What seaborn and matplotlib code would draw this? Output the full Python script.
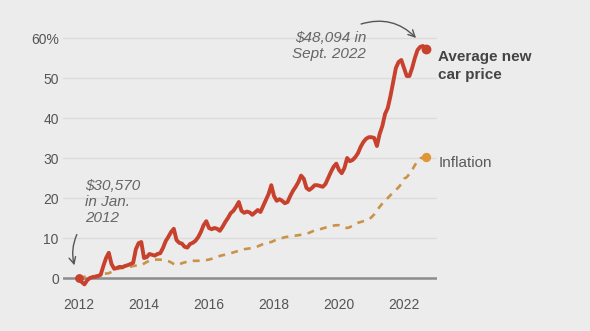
import numpy as np
import pandas as pd
import seaborn as sns
import matplotlib.pyplot as plt

# % change since Jan. 2012, monthly Jan 2012 .. Sep 2022
car_price = [
    0.0, -1.0, -1.6, -0.6, 0.0, 0.2, 0.3, 0.5, 0.8, 3.0, 5.0, 6.3,          # 2012
    3.5, 2.3, 2.5, 2.8, 2.7, 3.0, 3.2, 3.5, 3.8, 7.2, 8.7, 9.0,             # 2013
    5.0, 5.2, 6.0, 5.8, 5.6, 6.0, 6.2, 7.5, 9.2, 10.3, 11.5, 12.3,          # 2014
    9.5, 8.8, 8.6, 7.8, 7.6, 8.5, 8.8, 9.3, 10.2, 11.5, 13.2, 14.2,         # 2015
    12.5, 12.2, 12.5, 12.3, 11.8, 12.8, 14.0, 15.0, 16.2, 16.8, 17.8, 19.0, # 2016
    16.8, 16.3, 16.6, 16.4, 15.8, 16.4, 17.0, 16.5, 18.0, 19.5, 21.0, 23.2, # 2017
    20.5, 19.3, 19.7, 19.3, 18.7, 19.0, 20.5, 21.8, 22.8, 24.0, 25.6, 24.8, # 2018
    22.5, 22.0, 22.5, 23.2, 23.2, 23.0, 22.8, 23.5, 25.0, 26.5, 27.8, 28.6, # 2019
    27.0, 26.2, 27.5, 30.0, 29.2, 29.5, 30.2, 31.2, 32.8, 34.0, 34.8, 35.2, # 2020
    35.2, 35.0, 33.0, 36.0, 38.0, 41.0, 42.5, 45.5, 49.0, 52.5, 54.0, 54.5, # 2021
    52.5, 50.5, 50.5, 52.5, 55.0, 57.0, 57.8, 58.0, 57.3,                   # 2022
]
inflation = [
    0.0, 0.1, 0.3, 0.4, 0.4, 0.4, 0.5, 0.6, 0.8, 1.0, 1.1, 1.2,
    1.5, 1.9, 2.2, 2.4, 2.5, 2.6, 2.7, 2.8, 3.0, 3.1, 3.2, 3.2,
    3.6, 4.0, 4.3, 4.5, 4.6, 4.6, 4.6, 4.5, 4.4, 4.2, 3.9, 3.5,
    3.2, 3.4, 3.7, 3.9, 4.1, 4.3, 4.3, 4.3, 4.3, 4.4, 4.5, 4.5,
    4.6, 4.8, 5.0, 5.3, 5.5, 5.7, 5.8, 6.0, 6.2, 6.4, 6.6, 6.8,
    7.0, 7.2, 7.3, 7.4, 7.5, 7.7, 7.9, 8.2, 8.5, 8.7, 8.9, 9.0,
    9.3, 9.6, 9.8, 10.0, 10.2, 10.3, 10.4, 10.5, 10.6, 10.7, 10.8, 10.9,
    11.1, 11.3, 11.6, 11.9, 12.0, 12.2, 12.4, 12.6, 12.8, 13.0, 13.1, 13.2,
    13.2, 13.0, 12.7, 12.5, 12.7, 13.1, 13.5, 13.8, 14.0, 14.2, 14.4, 14.6,
    15.2, 15.9, 16.8, 17.8, 18.6, 19.3, 20.0, 20.7, 21.4, 22.0, 22.7, 23.5,
    24.8, 25.2, 26.0, 27.0, 28.2, 29.2, 29.9, 30.1, 30.3,
]
start_year = 2012
y_ticks = [0, 10, 20, 30, 40, 50, 60]
y_tick_labels = ["0", "10", "20", "30", "40", "50", "60%"]
x_ticks = [2012, 2014, 2016, 2018, 2020, 2022]
x_tick_labels = ["2012", "2014", "2016", "2018", "2020", "2022"]

months = np.arange(len(car_price))
years = start_year + months / 12.0
df = pd.DataFrame({"year": years, "car": car_price, "infl": inflation})

sns.set_theme(style="white")
plt.rcParams["font.family"] = ["Liberation Sans", "DejaVu Sans"]

BG = "#ececec"
RED = "#c8412d"
ORANGE = "#c99248"
DOT_ORANGE = "#df9634"
GRAY = "#555555"

fig = plt.figure(figsize=(5.9, 3.31), dpi=100)
fig.patch.set_facecolor(BG)
ax = fig.add_axes([63 / 590, 1 - 290 / 331, 374 / 590, 260 / 331])
ax.set_facecolor(BG)

ax.set_xlim(2011.508, 2023.015)
ax.set_ylim(-3, 62)

for t in y_ticks[1:]:
    ax.axhline(t, color="#dcdcdc", lw=1.0, zorder=0)
ax.axhline(0, color="#8c8c8c", lw=1.8, zorder=1)

sns.lineplot(data=df, x="year", y="infl", ax=ax, color=ORANGE, lw=1.9,
             linestyle=(0, (2.6, 2.4)), zorder=2)
sns.lineplot(data=df, x="year", y="car", ax=ax, color=RED, lw=2.8, zorder=3)

ax.scatter([years[-1]], [inflation[-1]], s=45, color=DOT_ORANGE, zorder=4, linewidths=0)
ax.scatter([years[-1]], [car_price[-1]], s=50, color=RED, zorder=4, linewidths=0)
ax.scatter([years[0]], [car_price[0]], s=40, color=RED, zorder=4, linewidths=0)

ax.set_xticks(x_ticks)
ax.set_xticklabels(x_tick_labels)
ax.set_yticks(y_ticks)
ax.set_yticklabels(y_tick_labels)
ax.tick_params(axis="both", length=0, labelsize=10, labelcolor=GRAY)
ax.tick_params(axis="y", pad=3)
ax.tick_params(axis="x", pad=6)
ax.set_xlabel("")
ax.set_ylabel("")
for s in ax.spines.values():
    s.set_visible(False)

# labels
ax.text(2023.05, 53, "Average new\ncar price", ha="left", va="center",
        fontsize=11, fontweight="bold", color="#444444", linespacing=1.45)
ax.text(2023.05, 28.75, "Inflation", ha="left", va="center",
        fontsize=11, color="#5a5a5a")

ax.text(2020.83, 58, "$48,094 in\nSept. 2022", ha="right", va="center",
        fontsize=11, style="italic", color="#666666", linespacing=1.2)
ax.text(2012.18, 19, "$30,570\nin Jan.\n2012", ha="left", va="center",
        fontsize=11, style="italic", color="#666666", linespacing=1.2)

ax.annotate("", xy=(2022.37, 60.0), xytext=(2020.68, 63.5),
            arrowprops=dict(arrowstyle="->", color="#555555", lw=1.0,
                            connectionstyle="arc3,rad=-0.3", shrinkA=0, shrinkB=0),
            annotation_clip=False)
ax.annotate("", xy=(2011.88, 2.5), xytext=(2011.97, 11.5),
            arrowprops=dict(arrowstyle="->", color="#555555", lw=1.0,
                            connectionstyle="arc3,rad=0.2"),
            annotation_clip=False)

fig.savefig("out.png", dpi=100, facecolor=BG)
